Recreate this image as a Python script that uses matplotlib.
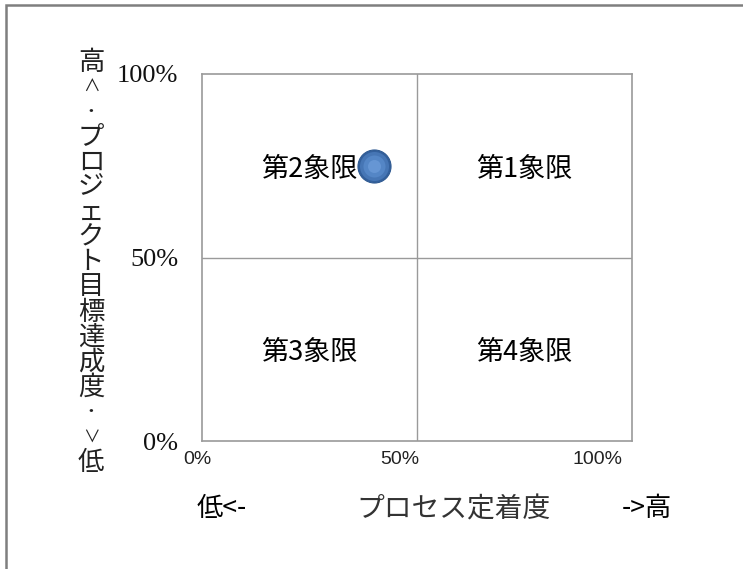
import matplotlib
matplotlib.use("Agg")
import matplotlib.pyplot as plt
from matplotlib.patches import Rectangle

# ---- data ----
point_x = [0.40]          # プロセス定着度
point_y = [0.75]          # プロジェクト目標達成度
tick_values = [0.0, 0.5, 1.0]
x_tick_labels = ["0%", "50%", "100%"]
y_tick_labels = ["0%", "50%", "100%"]
quadrant_labels = ["第1象限", "第2象限", "第3象限", "第4象限"]
quadrant_centers = [(0.75, 0.75), (0.25, 0.75), (0.25, 0.25), (0.75, 0.25)]
x_label_parts = ["低<-", "プロセス定着度", "->高"]
y_label_chars = ["高", "∧", "・", "プ", "ロ", "ジ", "ェ", "ク", "ト",
                 "目", "標", "達", "成", "度", "・", "∨", "低"]

CJK = ["Noto Sans CJK JP", "DejaVu Sans"]

W, H = 743, 569
fig = plt.figure(figsize=(W / 100, H / 100), dpi=100)
fig.patch.set_facecolor("white")

# outer chart border (only top and left edges visible in the reference)
fig.patches.append(Rectangle((6 / W, -0.1), 1.2, (1 - 5 / H) + 0.1, transform=fig.transFigure,
                             fill=False, edgecolor="#7f7f7f", linewidth=1.8))

ax = fig.add_axes([202 / W, (H - 441) / H, 430 / W, 367 / H])
ax.set_xlim(0, 1)
ax.set_ylim(0, 1)
for s in ax.spines.values():
    s.set_color("#9a9a9a")
    s.set_linewidth(1.2)
ax.axvline(0.5, color="#9a9a9a", lw=1.0)
ax.axhline(0.5, color="#9a9a9a", lw=1.0)

# y ticks (serif)
ax.set_yticks(tick_values)
ax.set_yticklabels(y_tick_labels, fontfamily="Liberation Serif", fontsize=19, color="#111111")
ax.tick_params(axis="y", length=0, pad=17)
# x ticks placed slightly left as in the reference
ax.set_xticks([])
x_label_pos = [-0.01, 0.46, 0.92]
for xp, lab in zip(x_label_pos, x_tick_labels):
    ax.text(xp, -0.05, lab, transform=ax.get_xaxis_transform(), ha="center", va="center",
            fontfamily="Liberation Sans", fontsize=14, color="#222222")

# quadrant labels
for (qx, qy), lab in zip(quadrant_centers, quadrant_labels):
    ax.text(qx, qy - 0.01, lab, ha="center", va="center", fontfamily=CJK, fontsize=19.5, color="black")

# the point (shaded sphere)
ax.scatter(point_x, point_y, s=33 ** 2 * 0.52, color="#33609c", edgecolors="#2f5a92",
           linewidths=0.8, zorder=5)
ax.scatter(point_x, point_y, s=29 ** 2 * 0.52, color="#4676b5", linewidths=0, zorder=6)
ax.scatter(point_x, point_y, s=22 ** 2 * 0.52, color="#5486c6", linewidths=0, zorder=7)
ax.scatter(point_x, point_y, s=13 ** 2 * 0.52, color="#6696d4", linewidths=0, zorder=8)

# x axis title line
fig.text(222 / W, 1 - 509 / H, x_label_parts[0], ha="center", va="center", fontfamily=CJK, fontsize=19)
fig.text(453 / W, 1 - 509 / H, x_label_parts[1], ha="center", va="center", fontfamily=CJK, fontsize=20,
         color="#333333")
fig.text(647 / W, 1 - 509 / H, x_label_parts[2], ha="center", va="center", fontfamily=CJK, fontsize=19)

# vertical y title
ytop, ybot = 62, 462
n = len(y_label_chars)
for i, ch in enumerate(y_label_chars):
    yy = ytop + (ybot - ytop) * i / (n - 1)
    fs = 19 if ch not in ("∧", "∨", "・") else 12
    fig.text(91 / W, 1 - yy / H, ch, ha="center", va="center", fontfamily=CJK, fontsize=fs,
             color="#222222")

fig.savefig("out.png", dpi=100, facecolor="white")
